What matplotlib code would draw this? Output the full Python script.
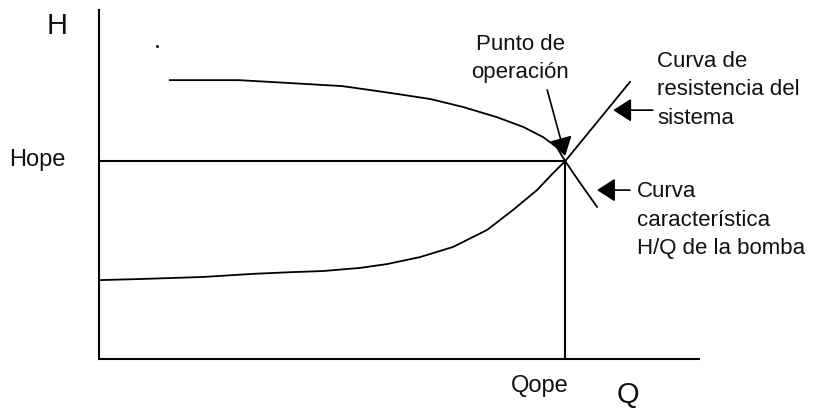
import matplotlib

matplotlib.use('Agg')
import matplotlib.pyplot as plt

plt.rcParams['font.family'] = ['Liberation Sans', 'DejaVu Sans']

# curva característica H/Q de la bomba
q_bomba = [1.18, 2.33, 3.15, 4.05, 4.63, 5.10, 5.52, 6.07, 6.63, 7.07, 7.40, 7.63, 7.77, 8.02, 8.30]
h_bomba = [7.99, 7.99, 7.91, 7.82, 7.68, 7.56, 7.45, 7.22, 6.93, 6.65, 6.36, 6.07, 5.67, 5.04, 4.36]

# curva de resistencia del sistema
q_sistema = [0.00, 0.65, 1.73, 2.57, 3.23, 3.73, 4.35, 4.80, 5.35, 5.90, 6.47, 6.90, 7.30, 7.57, 7.77, 8.85]
h_sistema = [2.26, 2.29, 2.35, 2.44, 2.49, 2.52, 2.61, 2.72, 2.92, 3.21, 3.70, 4.27, 4.84, 5.33, 5.67, 7.94]

# punto de operación
q_ope = 7.77
h_ope = 5.67

fig = plt.figure(figsize=(8.21, 4.09), dpi=100)
ax = fig.add_axes([99 / 821, 50 / 409, 600 / 821, 349 / 409])
ax.set_xlim(0, 10)
ax.set_ylim(0, 10)

for s in ['top', 'right']:
    ax.spines[s].set_visible(False)
for s in ['left', 'bottom']:
    ax.spines[s].set_linewidth(1.5)
ax.set_xticks([])
ax.set_yticks([])

ax.plot(q_bomba, h_bomba, color='black', lw=1.3)
ax.plot(q_sistema, h_sistema, color='black', lw=1.3)
ax.plot([0, q_ope], [h_ope, h_ope], color='black', lw=1.5)
ax.plot([q_ope, q_ope], [0, h_ope], color='black', lw=1.5)

# punto suelto de la imagen original
ax.plot([0.97], [8.97], marker='s', ms=1, color='black')

flecha = dict(arrowstyle='-|>,head_length=0.7,head_width=0.45', color='black',
              lw=1.2, mutation_scale=16, shrinkA=0, shrinkB=0)
ax.annotate('', xy=(7.77, 5.82), xytext=(7.47, 7.71), arrowprops=flecha)
ax.annotate('', xy=(8.57, 7.13), xytext=(9.23, 7.13), arrowprops=flecha)
ax.annotate('', xy=(8.30, 4.84), xytext=(8.85, 4.84), arrowprops=flecha)

txt = dict(fontsize=16, color='#111111', linespacing=1.45)
ax.text(7.02, 8.60, 'Punto de\noperación', ha='center', va='center', **txt)
ax.text(9.30, 7.71, 'Curva de\nresistencia del\nsistema', ha='left', va='center', **txt)
ax.text(8.97, 3.98, 'Curva\ncaracterística\nH/Q de la bomba', ha='left', va='center', **txt)

ax.text(-0.70, 9.54, 'H', ha='center', va='center', fontsize=21, color='#111111')
ax.text(-1.02, 5.70, 'Hope', ha='center', va='center', fontsize=17, color='#111111')
ax.text(7.35, -0.77, 'Qope', ha='center', va='center', fontsize=17, color='#111111')
ax.text(8.82, -1.02, 'Q', ha='center', va='center', fontsize=21, color='#111111')

plt.savefig('out.png', dpi=100)
plt.close()
